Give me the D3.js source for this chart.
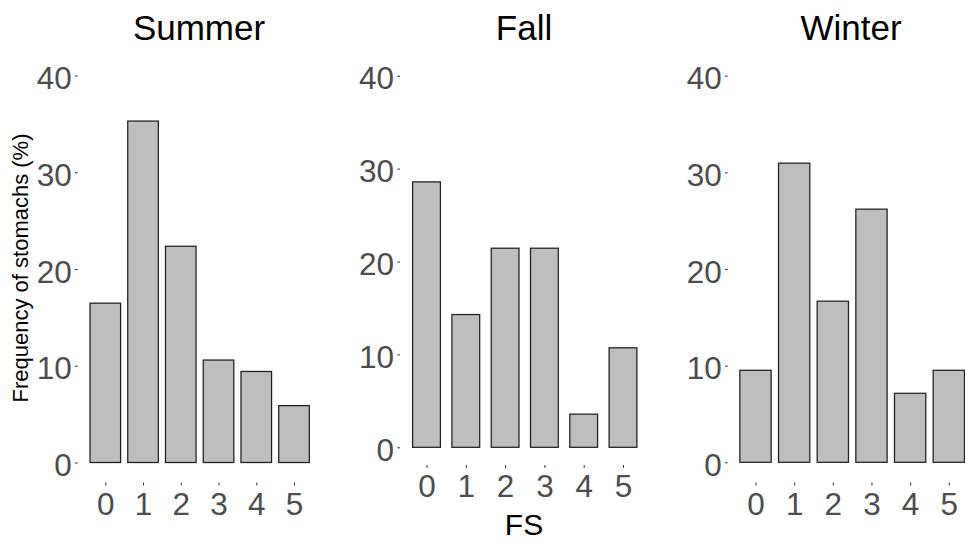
<!DOCTYPE html>
<html><head><meta charset="utf-8">
<script src="https://cdn.jsdelivr.net/npm/d3@7"></script>
<style>
body{margin:0;background:#fff}
svg{display:block}
text{font-family:"Liberation Sans",Arial,sans-serif}
</style>
</head><body><svg id="c" width="965" height="541"></svg>
<script>
const categories = ["0","1","2","3","4","5"];
const seasons = ["Summer","Fall","Winter"];
const summerValues = [16.47,35.29,22.35,10.59,9.41,5.88];
const fallValues = [28.57,14.29,21.43,21.43,3.57,10.71];
const winterValues = [9.52,30.95,16.67,26.19,7.14,9.52];
const yTicks = [0,10,20,30,40];
const yTitle = "Frequency of stomachs (%)";
const xTitle = "FS";

const panels = [
  {title: seasons[0], values: summerValues, c0:105.3, c5:294.0, w:30.6, y0:462.5, y40:75.5, axisX:77.7, xTickTop:482.5, titleX:199},
  {title: seasons[1], values: fallValues,   c0:426.5, c5:623.0, w:27.8, y0:447.3, y40:75.7, axisX:400,  xTickTop:465,   titleX:524},
  {title: seasons[2], values: winterValues, c0:755.5, c5:948.8, w:31.3, y0:462.3, y40:75.7, axisX:727.7, xTickTop:482.5, titleX:851}
];

const svg = d3.select("#c");
svg.append("rect").attr("width",965).attr("height",541).attr("fill","#fff");

panels.forEach((p, i) => {
  const x = d3.scalePoint().domain(categories).range([p.c0, p.c5]);
  const y = d3.scaleLinear().domain([0, 40]).range([p.y0, p.y40]);
  const g = svg.append("g");

  g.selectAll("rect.bar").data(p.values).join("rect")
    .attr("class","bar")
    .attr("x", (d, k) => x(categories[k]) - p.w/2)
    .attr("width", p.w)
    .attr("y", d => y(d))
    .attr("height", d => y(0) - y(d))
    .attr("fill", "#bebebe")
    .attr("stroke", "#1f1f1f")
    .attr("stroke-width", 1.25);

  const ya = g.append("g").attr("transform", `translate(${p.axisX},0)`)
    .call(d3.axisLeft(y).tickValues(yTicks).tickSize(2.75).tickPadding(3.2).tickFormat(d3.format("d")));
  ya.select(".domain").remove();
  ya.selectAll(".tick line").attr("stroke","#333").attr("stroke-width",1);
  ya.selectAll(".tick text").attr("fill","#4d4d4d").attr("font-size","31.5px")
    .attr("dy","0.42em").style("font-family","'Liberation Sans',Arial,sans-serif");

  const xa = g.append("g").attr("transform", `translate(0,${p.xTickTop})`)
    .call(d3.axisBottom(x).tickSize(3).tickPadding(7));
  xa.select(".domain").remove();
  xa.selectAll(".tick line").attr("stroke","#333").attr("stroke-width",1);
  xa.selectAll(".tick text").attr("fill","#4d4d4d").attr("font-size","31.5px")
    .style("font-family","'Liberation Sans',Arial,sans-serif");

  svg.append("text").attr("x", p.titleX).attr("y", 40)
    .attr("text-anchor","middle").attr("font-size","35px").attr("fill","#000")
    .text(p.title);
});

svg.append("text")
  .attr("transform","translate(28,268) rotate(-90)")
  .attr("text-anchor","middle").attr("font-size","22px").attr("fill","#000")
  .text(yTitle);

svg.append("text").attr("x",524).attr("y",535)
  .attr("text-anchor","middle").attr("font-size","30px").attr("fill","#000")
  .text(xTitle);
</script>
</body></html>
